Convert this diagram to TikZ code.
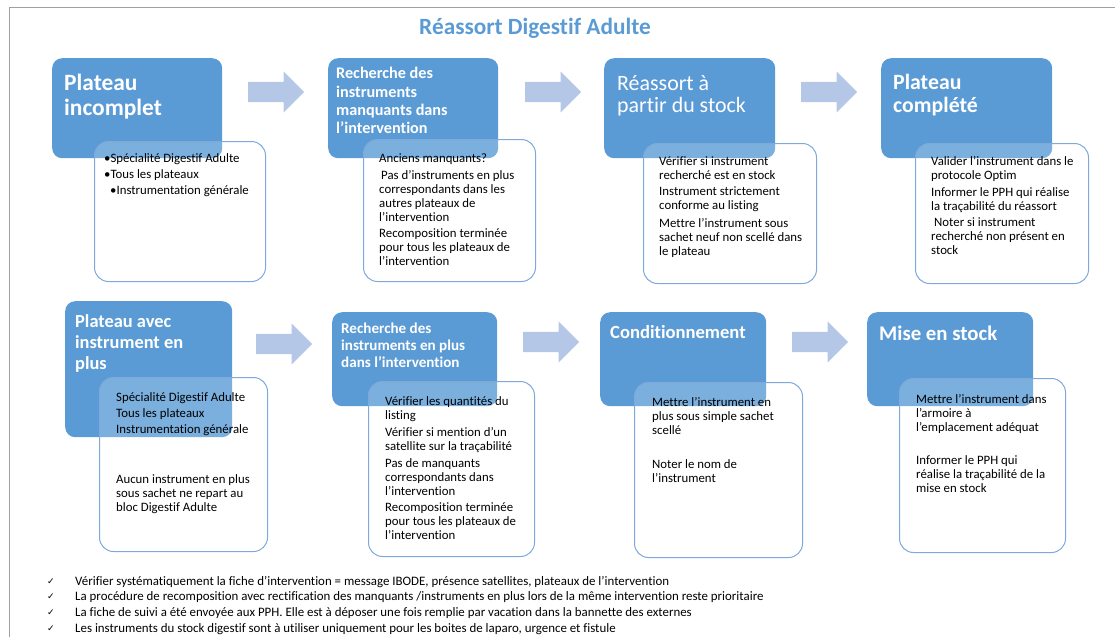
\documentclass[tikz,border=0pt]{standalone}
\usepackage{fontspec}
\setmainfont{Carlito}[Ligatures=NoCommon]
\newfontfamily\symfont{DejaVu Sans}
\usetikzlibrary{shapes.arrows,positioning}
\definecolor{headBlue}{RGB}{91,155,213}
\definecolor{arrowBlue}{RGB}{180,199,231}
\definecolor{edgeBlue}{RGB}{125,170,218}
\definecolor{frameGray}{RGB}{160,160,160}

\begin{document}
\begin{tikzpicture}
  [x=1pt,y=-1pt,
   headN/.style={fill=headBlue,rounded corners=10pt,anchor=north west,inner sep=0pt},
   bodyN/.style={draw=edgeBlue,line width=1pt,fill=white,fill opacity=0.2,
                 rounded corners=14pt,anchor=north west,inner sep=0pt},
   headT/.style={text=white,font=\bfseries,align=left,inner sep=0pt},
   bodyT/.style={font=\fontsize{12.8}{14}\selectfont,align=left,inner sep=0pt},
   arrowN/.style={single arrow,fill=arrowBlue,inner sep=10pt,
                  single arrow head extend=10.5pt,minimum height=56pt,anchor=west},
   noteT/.style={font=\fontsize{12.9}{15}\selectfont,anchor=west,inner sep=0pt},
   checkT/.style={font=\symfont\fontsize{9}{10}\selectfont,anchor=west,inner sep=0pt}]

  \useasboundingbox (0,0) rectangle (1115,637);
  \draw[frameGray] (9,637) -- (9,7) -- (1115,7);

  \node[text=headBlue,font=\bfseries\fontsize{23.3}{28}\selectfont] (title) at (535,28)
    {Réassort Digestif Adulte};

  % top row
  \node[headN,minimum width=170pt,minimum height=100pt] (hA) at (52,58) {};
  \node[headN,minimum width=170pt,minimum height=100pt] (hB) at (328,58) {};
  \node[headN,minimum width=171pt,minimum height=100pt] (hC) at (604,58) {};
  \node[headN,minimum width=171pt,minimum height=100pt] (hD) at (881,58) {};

  \node[arrowN] (a1) at (248,92) {};
  \node[arrowN] (a2) at (525,92) {};
  \node[arrowN] (a3) at (801,92) {};

  \node[bodyN,minimum width=171pt,minimum height=140pt] (bA) at (94,141) {};
  \node[bodyN,minimum width=172pt,minimum height=142pt] (bB) at (363,139) {};
  \node[bodyN,minimum width=173pt,minimum height=140pt] (bC) at (643,143) {};
  \node[bodyN,minimum width=173pt,minimum height=140pt] (bD) at (915,143) {};

  \node[headT,font=\bfseries\fontsize{23.4}{25}\selectfont,below right=15.8pt and 12pt of hA.north west] (tA)
    {Plateau\\incomplet};
  \node[headT,font=\bfseries\fontsize{16.2}{18.3}\selectfont,below right=9.4pt and 8pt of hB.north west] (tB)
    {Recherche des\\instruments\\manquants dans\\l’intervention};
  \node[headT,font=\fontsize{21.9}{22}\selectfont,below right=17pt and 13pt of hC.north west] (tC)
    {Réassort à\\partir du stock};
  \node[headT,font=\bfseries\fontsize{21.8}{23}\selectfont,below right=15.7pt and 12pt of hD.north west] (tD)
    {Plateau\\complété};

  \node[bodyT,font=\fontsize{12.8}{16}\selectfont,below right=12.4pt and 10pt of bA.north west] (pA)
    {•Spécialité Digestif Adulte\\•Tous les plateaux\\\hspace{6pt}•Instrumentation générale};
  \node[bodyT,below right=14.4pt and 16pt of bB.north west] (pB)
    {Anciens manquants?\\[3pt]\hspace{2pt}Pas d’instruments en plus\\correspondants dans les\\autres plateaux de\\l’intervention\\[2pt]Recomposition terminée\\pour tous les plateaux de\\l’intervention};
  \node[bodyT,below right=13.4pt and 16pt of bC.north west] (pC)
    {Vérifier si instrument\\recherché est en stock\\[2pt]Instrument strictement\\conforme au listing\\[4pt]Mettre l’instrument sous\\sachet neuf non scellé dans\\le plateau};
  \node[bodyT,below right=13.4pt and 16pt of bD.north west] (pD)
    {Valider l’instrument dans le\\protocole Optim\\[3pt]Informer le PPH qui réalise\\la traçabilité du réassort\\[2pt]\hspace{3pt}Noter si instrument\\recherché non présent en\\stock};

  % bottom row
  \node[headN,minimum width=167pt,minimum height=136pt] (hE) at (65,301) {};
  \node[headN,minimum width=165pt,minimum height=94pt] (hF) at (332,312) {};
  \node[headN,minimum width=166pt,minimum height=94pt] (hG) at (600,312) {};
  \node[headN,minimum width=166pt,minimum height=94pt] (hH) at (867,312) {};

  \node[arrowN] (a4) at (256,344) {};
  \node[arrowN] (a5) at (523,342) {};
  \node[arrowN] (a6) at (792,342) {};

  \node[bodyN,minimum width=168pt,minimum height=174pt] (bE) at (99,377) {};
  \node[bodyN,minimum width=166pt,minimum height=175pt] (bF) at (368,381) {};
  \node[bodyN,minimum width=168pt,minimum height=175pt] (bG) at (634,382) {};
  \node[bodyN,minimum width=166pt,minimum height=174pt] (bH) at (899,378) {};

  \node[headT,font=\bfseries\fontsize{18.4}{21}\selectfont,below right=13pt and 10pt of hE.north west] (tE)
    {Plateau avec\\instrument en\\plus};
  \node[headT,font=\bfseries\fontsize{15.1}{17}\selectfont,below right=10.5pt and 9pt of hF.north west] (tF)
    {Recherche des\\instruments en plus\\dans l’intervention};
  \node[headT,font=\bfseries\fontsize{18.6}{20}\selectfont,below right=13pt and 10pt of hG.north west] (tG)
    {Conditionnement};
  \node[headT,font=\bfseries\fontsize{20.8}{22}\selectfont,below right=14pt and 12pt of hH.north west] (tH)
    {Mise en stock};

  \node[bodyT,below right=15.4pt and 17pt of bE.north west] (pE)
    {Spécialité Digestif Adulte\\[2pt]Tous les plateaux\\[2pt]Instrumentation générale\\[36pt]Aucun instrument en plus\\sous sachet ne repart au\\bloc Digestif Adulte};
  \node[bodyT,below right=15.4pt and 17pt of bF.north west] (pF)
    {Vérifier les quantités du\\listing\\[3pt]Vérifier si mention d’un\\satellite sur la traçabilité\\[3pt]Pas de manquants\\correspondants dans\\l’intervention\\[2pt]Recomposition terminée\\pour tous les plateaux de\\l’intervention};
  \node[bodyT,below right=15.4pt and 18pt of bG.north west] (pG)
    {Mettre l’instrument en\\plus sous simple sachet\\scellé\\[20pt]Noter le nom de\\l’instrument};
  \node[bodyT,below right=16.4pt and 17pt of bH.north west] (pH)
    {Mettre l’instrument dans\\l’armoire à\\l’emplacement adéquat\\[19pt]Informer le PPH qui\\réalise la traçabilité de la\\mise en stock};

  % notes
  \node[checkT] (c1) at (47,582) {✓};
  \node[checkT] (c2) at (47,597) {✓};
  \node[checkT] (c3) at (47,613) {✓};
  \node[checkT] (c4) at (47,629) {✓};
  \node[noteT] (n1) at (75,582.5)
    {Vérifier systématiquement la fiche d’intervention = message IBODE, présence satellites, plateaux de l’intervention};
  \node[noteT] (n2) at (75,597.5)
    {La procédure de recomposition avec rectification des manquants /instruments en plus lors de la même intervention reste prioritaire};
  \node[noteT] (n3) at (75,613.5)
    {La fiche de suivi a été envoyée aux PPH. Elle est à déposer une fois remplie par vacation dans la bannette des externes};
  \node[noteT] (n4) at (75,629.5)
    {Les instruments du stock digestif sont à utiliser uniquement pour les boites de laparo, urgence et fistule};

\end{tikzpicture}
\end{document}
